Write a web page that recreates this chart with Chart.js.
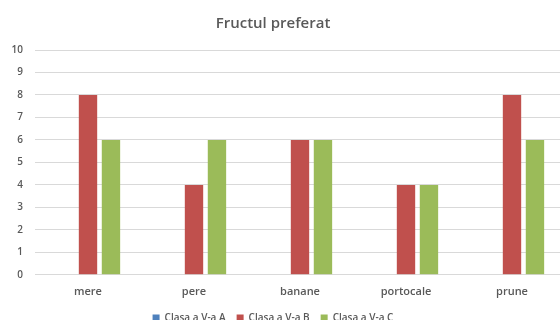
<!DOCTYPE html>
<html>
<head>
<meta charset="utf-8">
<script src="https://cdn.jsdelivr.net/npm/chart.js@4/dist/chart.umd.min.js"></script>
<style>
  html, body { margin: 0; padding: 0; background: #fff; }
  #clip { width: 560px; height: 320px; overflow: hidden; position: relative; }
  #wrap { width: 584px; height: 333px; margin-left: -19px; position: relative; }
</style>
</head>
<body>
<div id="clip"><div id="wrap"><canvas id="c"></canvas></div></div>
<script>
const categories = ["mere", "pere", "banane", "portocale", "prune"];
const seriesNames = ["Clasa a V-a A", "Clasa a V-a B", "Clasa a V-a C"];
const clasaA = [0, 0, 0, 0, 0];
const clasaB = [8, 4, 6, 4, 8];
const clasaC = [6, 6, 6, 4, 6];
const yTicks = [0, 1, 2, 3, 4, 5, 6, 7, 8, 9, 10];
const colors = ["#4F81BD", "#C0504D", "#9BBB59"];

const textColor = "#595959";
const fontFamily = "'Open Sans', 'Liberation Sans', sans-serif";

new Chart(document.getElementById("c"), {
  type: "bar",
  data: {
    labels: categories,
    datasets: [clasaA, clasaB, clasaC].map((d, i) => ({
      label: seriesNames[i],
      data: d,
      backgroundColor: colors[i],
      borderWidth: 0,
      categoryPercentage: 0.65,
      barPercentage: 0.8
    }))
  },
  options: {
    responsive: true,
    maintainAspectRatio: false,
    animation: false,
    layout: { padding: { left: 0, right: 0, top: 0, bottom: 0 } },
    plugins: {
      title: {
        display: true,
        text: "Fructul preferat",
        color: textColor,
        font: { family: fontFamily, size: 15, weight: "600" },
        padding: { top: 15, bottom: 17 }
      },
      legend: {
        position: "bottom",
        labels: {
          color: textColor,
          font: { family: fontFamily, size: 10, weight: "600" },
          boxWidth: 7,
          boxHeight: 7,
          padding: 11
        }
      },
      tooltip: { enabled: false }
    },
    scales: {
      x: {
        afterFit: (s) => { s.height -= 6; },
        grid: { display: false, drawTicks: false },
        border: { display: true, color: "#d9d9d9" },
        ticks: {
          color: textColor,
          font: { family: fontFamily, size: 11, weight: "600" },
          padding: 10
        }
      },
      y: {
        min: 0,
        max: 10,
        afterFit: (s) => { s.width = 54; },
        afterBuildTicks: (s) => { s.ticks = yTicks.map(v => ({ value: v })); },
        grid: { color: "#d9d9d9", drawTicks: false },
        border: { display: false },
        ticks: {
          color: textColor,
          font: { family: fontFamily, size: 10, weight: "600" },
          padding: 12
        }
      }
    }
  }
});
</script>
</body>
</html>
